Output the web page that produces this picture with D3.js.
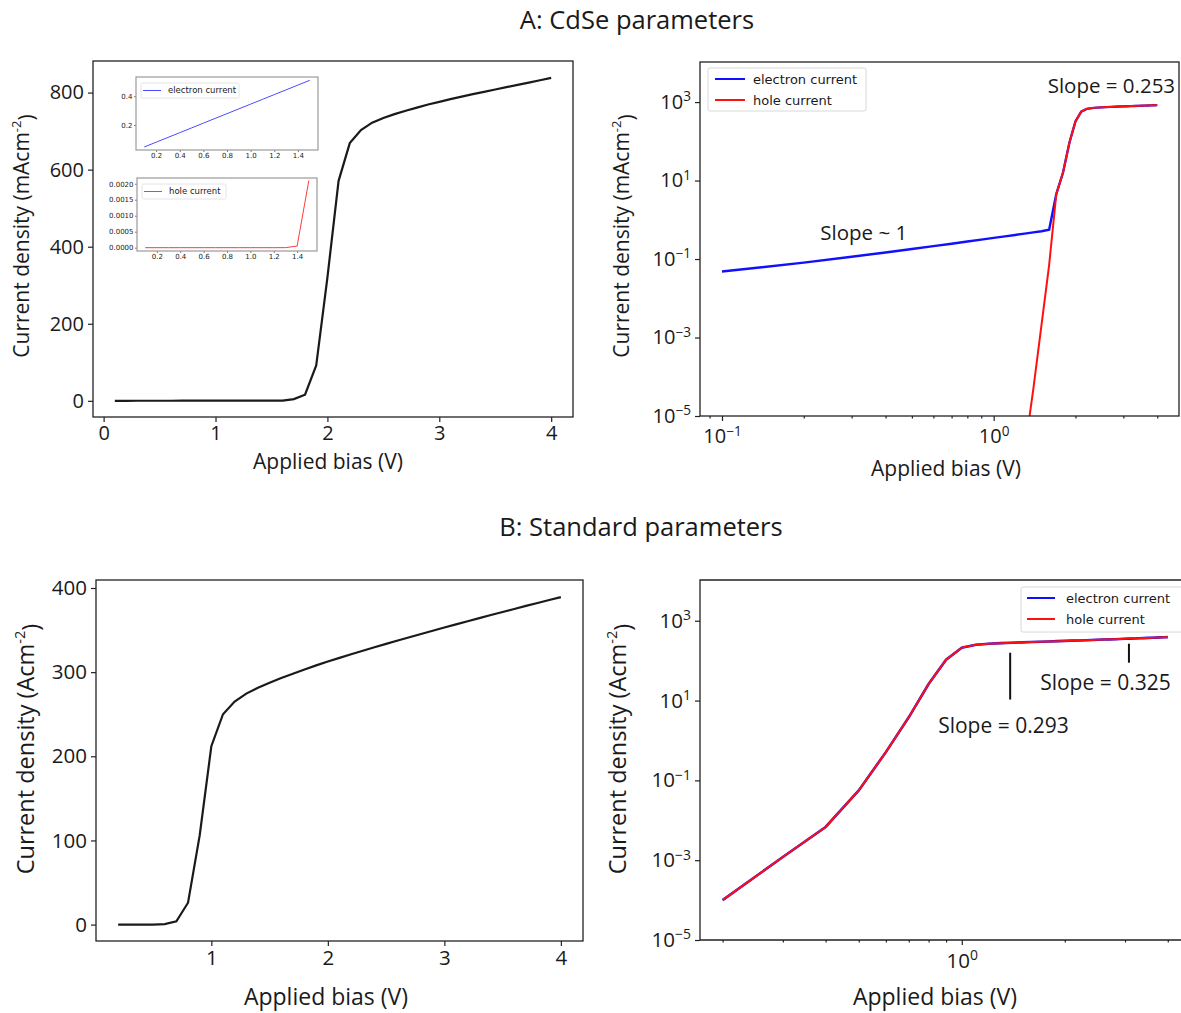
<!DOCTYPE html>
<html>
<head>
<meta charset="utf-8">
<script src="https://cdn.jsdelivr.net/npm/d3@7"></script>
<style>
  body { margin: 0; background: #fff; }
  svg text { font-family: "Open Sans", sans-serif; fill: #1a1a1a; }
  .mpl text { font-family: "DejaVu Sans", sans-serif; }
</style>
</head>
<body>
<div id="chart"></div>
<script>
// ── Data: A (CdSe parameters), current in mA/cm² ──────────────────
const biasA = [0.1, 0.2, 0.3, 0.4, 0.5, 0.6, 0.7, 0.8, 0.9, 1.0,
               1.1, 1.2, 1.3, 1.4, 1.5, 1.6, 1.7, 1.8, 1.9, 2.0,
               2.1, 2.2, 2.3, 2.4, 2.5, 2.6, 2.7, 2.8, 2.9, 3.0,
               3.1, 3.2, 3.3, 3.4, 3.5, 3.6, 3.7, 3.8, 3.9, 4.0];
const electronA = [0.048, 0.081, 0.114, 0.147, 0.18, 0.213, 0.246, 0.279, 0.312, 0.345,
                   0.378, 0.411, 0.444, 0.477, 0.51, 0.56, 4.5, 16, 92, 320,
                   571, 669, 703, 722, 734, 744, 753, 761, 769, 776,
                   783, 789.5, 796, 802, 808, 814, 820, 826, 832, 838];
const holeA = [0, 0, 0, 0, 0, 0, 0, 0, 0, 0,
               0, 0, 1.2e-6, 5e-5, 0.0021, 0.07, 4.5, 16, 92, 320,
               571, 669, 703, 722, 734, 744, 753, 761, 769, 776,
               783, 789.5, 796, 802, 808, 814, 820, 826, 832, 838];
const insetMaxBias = 1.5;

// ── Data: B (standard parameters), current in A/cm² ───────────────
const biasB = [0.2, 0.3, 0.4, 0.5, 0.6, 0.7, 0.8, 0.9, 1.0,
               1.1, 1.2, 1.3, 1.4, 1.5, 1.6, 1.7, 1.8, 1.9, 2.0,
               2.1, 2.2, 2.3, 2.4, 2.5, 2.6, 2.7, 2.8, 2.9, 3.0,
               3.1, 3.2, 3.3, 3.4, 3.5, 3.6, 3.7, 3.8, 3.9, 4.0];
const currentB = [0.0001, 0.0012, 0.0068, 0.056, 0.51, 3.8, 26, 106, 212,
                  250, 265, 274.5, 281.5, 287.5, 293, 298.2, 303.2, 308, 312.6,
                  317, 321.3, 325.5, 329.6, 333.6, 337.6, 341.5, 345.4, 349.2, 353,
                  356.8, 360.5, 364.2, 367.9, 371.5, 375.1, 378.7, 382.2, 385.7, 389.2];

// ── Ticks ─────────────────────────────────────────────────────────
const linTicksA = [0, 1, 2, 3, 4];
const yTicksA = [0, 200, 400, 600, 800];
const linTicksB = [1, 2, 3, 4];
const yTicksB = [0, 100, 200, 300, 400];
const logYTicks = [1e-5, 1e-3, 1e-1, 1e1, 1e3];
const logXMajor = [0.1, 1];
const logXMinor = [0.09, 0.2, 0.3, 0.4, 0.5, 0.6, 0.7, 0.8, 0.9, 2, 3, 4];
const insetXTicks = [0.2, 0.4, 0.6, 0.8, 1.0, 1.2, 1.4];
const insetElecTicks = [0.2, 0.4];
const insetHoleTicks = [0, 0.0005, 0.001, 0.0015, 0.002];

// ── Annotations (data coordinates) ────────────────────────────────
const notesA = [{ x: 1.58, y: 1700, text: "Slope = 0.253" },
                { x: 0.23, y: 0.305, text: "Slope ~ 1" }];
const notesB = [{ x: 0.853, y: 1.5, text: "Slope = 0.293" },
                { x: 1.695, y: 18.8, text: "Slope = 0.325" }];
const marksB = [{ x: 1.385, y1: 10.6, y2: 158 },
                { x: 3.08, y1: 89, y2: 266 }];

const colors = { line: "#1a1a1a", electron: "#1010ff", hole: "#ff1010", frame: "#222" };

const svg = d3.select("#chart").append("svg")
  .attr("width", 1181).attr("height", 1013);

const seriesA = biasA.map((b, i) => ({ x: b, e: electronA[i], h: holeA[i] }));
const seriesB = biasB.map((b, i) => ({ x: b, j: currentB[i] }));

// ── Titles ────────────────────────────────────────────────────────
svg.append("text").attr("x", 637).attr("y", 29).attr("text-anchor", "middle")
  .style("font-size", "25.5px").text("A: CdSe parameters");
svg.append("text").attr("x", 641).attr("y", 536).attr("text-anchor", "middle")
  .style("font-size", "25.5px").text("B: Standard parameters");

// ── helpers ───────────────────────────────────────────────────────
function frame(g, x, y, opts = {}) {
  const [x0, x1] = x.range(), [y1, y0] = y.range();
  g.append("rect")
    .attr("x", x0).attr("y", y0).attr("width", x1 - x0).attr("height", y1 - y0)
    .attr("fill", "none")
    .attr("stroke", opts.stroke || colors.frame)
    .attr("stroke-width", opts.width || 1.3);
}

function clip(id, x, y) {
  const [x0, x1] = x.range(), [y1, y0] = y.range();
  svg.append("clipPath").attr("id", id).append("rect")
    .attr("x", x0).attr("y", y0).attr("width", x1 - x0).attr("height", y1 - y0);
  return `url(#${id})`;
}

function styleAxis(g, size) {
  g.select(".domain").remove();
  g.selectAll(".tick line").attr("stroke", colors.frame).attr("stroke-width", 1.2);
  g.selectAll(".tick text").style("font-size", size + "px").attr("fill", "#1a1a1a");
}

function powerLabels(g) {
  g.selectAll(".tick text").each(function (d) {
    const e = Math.round(Math.log10(d));
    const t = d3.select(this).text("10");
    t.append("tspan").attr("dy", "-0.55em").style("font-size", "0.68em")
      .text(e < 0 ? "\u2212" + (-e) : e);
  });
}

function yLabel(x, y, unit, size) {
  const t = svg.append("text")
    .attr("transform", `translate(${x},${y}) rotate(-90)`)
    .attr("text-anchor", "middle").style("font-size", size + "px")
    .text("Current density (" + unit);
  t.append("tspan").attr("dy", "-0.6em").style("font-size", "0.62em").text("-2");
  t.append("tspan").attr("dy", "0.6em").text(")");
}

function xLabel(x, y, size) {
  svg.append("text").attr("x", x).attr("y", y).attr("text-anchor", "middle")
    .style("font-size", size + "px").text("Applied bias (V)");
}

// ── Panel A, left: linear ────────────────────────────────────────
{
  const x = d3.scaleLinear().domain([-0.095, 4.195]).range([93, 573]);
  const y = d3.scaleLinear().domain([-42, 882]).range([417, 61]);
  const g = svg.append("g");

  g.append("g").attr("transform", `translate(0,${y.range()[0]})`)
    .call(d3.axisBottom(x).tickValues(linTicksA).tickFormat(d3.format("d")).tickSize(5).tickPadding(4))
    .call(a => styleAxis(a, 20));
  g.append("g").attr("transform", `translate(${x.range()[0]},0)`)
    .call(d3.axisLeft(y).tickValues(yTicksA).tickSize(5).tickPadding(4))
    .call(a => styleAxis(a, 20));

  g.append("path").datum(seriesA)
    .attr("fill", "none").attr("stroke", colors.line).attr("stroke-width", 2.2)
    .attr("d", d3.line().x(d => x(d.x)).y(d => y(d.e)));
  frame(g, x, y);

  yLabel(29, 236, "mAcm", 21);
  xLabel(328, 469, 21);

  // insets: electron and hole current at low bias
  const insetData = seriesA.filter(d => d.x <= insetMaxBias);
  const ix = d3.scaleLinear().domain([0.03, 1.57]).range([136, 318]);
  const iy1 = d3.scaleLinear().domain([0.027, 0.533]).range([150, 77]);
  const ix2 = d3.scaleLinear().domain([0.03, 1.57]).range([137, 317]);
  const iy2 = d3.scaleLinear().domain([-0.000104, 0.00218]).range([251, 178]);

  const insets = [
    { x: ix, y: iy1, ticks: insetElecTicks, fmt: ".1f", key: "e", color: "#4b4bff", label: "electron current", lw: 98 },
    { x: ix2, y: iy2, ticks: insetHoleTicks, fmt: ".4f", key: "h", color: "#ff3b3b", label: "hole current", lw: 84 }
  ];
  insets.forEach(p => {
    const ig = svg.append("g").attr("class", "mpl");
    ig.append("g").attr("transform", `translate(0,${p.y.range()[0]})`)
      .call(d3.axisBottom(p.x).tickValues(insetXTicks).tickFormat(d3.format(".1f")).tickSize(2).tickPadding(1.5))
      .call(a => styleAxis(a, 7));
    ig.append("g").attr("transform", `translate(${p.x.range()[0]},0)`)
      .call(d3.axisLeft(p.y).tickValues(p.ticks).tickFormat(d3.format(p.fmt)).tickSize(2).tickPadding(1.5))
      .call(a => styleAxis(a, 7));
    ig.selectAll(".tick line").attr("stroke", "#555").attr("stroke-width", 0.8);
    ig.selectAll(".tick text").attr("fill", "#333");
    ig.append("path").datum(insetData)
      .attr("fill", "none").attr("stroke", p.color).attr("stroke-width", 1)
      .attr("d", d3.line().x(d => p.x(d.x)).y(d => p.y(d[p.key])));
    frame(ig, p.x, p.y, { stroke: "#9a9a9a", width: 1.2 });

    const lx = p.x.range()[0] + 5, ly = p.y.range()[1] + 6;
    ig.append("rect").attr("x", lx).attr("y", ly).attr("width", p.lw).attr("height", 15)
      .attr("rx", 1.5).attr("fill", "#fff").attr("stroke", "#ddd").attr("stroke-width", 0.8);
    ig.append("line").attr("x1", lx + 2).attr("x2", lx + 20)
      .attr("y1", ly + 7.5).attr("y2", ly + 7.5).attr("stroke", p.color).attr("stroke-width", 1);
    ig.append("text").attr("x", lx + 27).attr("y", ly + 7.5).attr("dy", "0.35em")
      .style("font-size", "8.5px").attr("fill", "#333").text(p.label);
  });
}

// ── Panel A, right: log-log ──────────────────────────────────────
{
  const x = d3.scaleLog().domain([0.083, 4.81]).range([700, 1179]);
  const y = d3.scaleLog().domain([1e-5, 1.05e4]).range([416, 62]);
  const g = svg.append("g");

  g.append("g").attr("transform", `translate(0,${y.range()[0]})`)
    .call(d3.axisBottom(x).tickValues(logXMinor).tickFormat("").tickSize(2.5))
    .call(a => styleAxis(a, 20));
  g.append("g").attr("transform", `translate(0,${y.range()[0]})`)
    .call(d3.axisBottom(x).tickValues(logXMajor).tickSize(5).tickPadding(8))
    .call(a => styleAxis(a, 20)).call(powerLabels);
  g.append("g").attr("transform", `translate(${x.range()[0]},0)`)
    .call(d3.axisLeft(y).tickValues(logYTicks).tickSize(5).tickPadding(4))
    .call(a => styleAxis(a, 20)).call(powerLabels);

  const cp = clip("clipA2", x, y);
  g.append("path").datum(seriesA.filter(d => d.e > 0))
    .attr("clip-path", cp)
    .attr("fill", "none").attr("stroke", colors.electron).attr("stroke-width", 2.4)
    .attr("d", d3.line().x(d => x(d.x)).y(d => y(d.e)));
  g.append("path").datum(seriesA.filter(d => d.h > 0))
    .attr("clip-path", cp)
    .attr("fill", "none").attr("stroke", colors.hole).attr("stroke-width", 2)
    .attr("d", d3.line().x(d => x(d.x)).y(d => y(d.h)));
  frame(g, x, y);

  notesA.forEach(n => g.append("text").attr("x", x(n.x)).attr("y", y(n.y))
    .style("font-size", "20.5px").text(n.text));

  // legend
  const lg = g.append("g").attr("class", "mpl");
  lg.append("rect").attr("x", 708).attr("y", 68).attr("width", 158).attr("height", 43)
    .attr("rx", 2).attr("fill", "#fff").attr("stroke", "#d8d8d8");
  [["electron current", colors.electron], ["hole current", colors.hole]].forEach(([t, c], i) => {
    lg.append("line").attr("x1", 715).attr("x2", 745).attr("y1", 79 + i * 21).attr("y2", 79 + i * 21)
      .attr("stroke", c).attr("stroke-width", 2);
    lg.append("text").attr("x", 753).attr("y", 79 + i * 21).attr("dy", "0.35em")
      .style("font-size", "13px").text(t);
  });

  yLabel(629, 236, "mAcm", 21);
  xLabel(946, 476, 21);
}

// ── Panel B, left: linear ────────────────────────────────────────
{
  const x = d3.scaleLinear().domain([0.01, 4.19]).range([96, 583]);
  const y = d3.scaleLinear().domain([-19.5, 409.5]).range([941, 580]);
  const g = svg.append("g");

  g.append("g").attr("transform", `translate(0,${y.range()[0]})`)
    .call(d3.axisBottom(x).tickValues(linTicksB).tickFormat(d3.format("d")).tickSize(5).tickPadding(4))
    .call(a => styleAxis(a, 20.5));
  g.append("g").attr("transform", `translate(${x.range()[0]},0)`)
    .call(d3.axisLeft(y).tickValues(yTicksB).tickSize(5).tickPadding(4))
    .call(a => styleAxis(a, 20.5));

  g.append("path").datum(seriesB)
    .attr("fill", "none").attr("stroke", colors.line).attr("stroke-width", 2.2)
    .attr("d", d3.line().x(d => x(d.x)).y(d => y(d.j)));
  frame(g, x, y);

  yLabel(34, 749, "Acm", 23.5);
  xLabel(326, 1005, 23);
}

// ── Panel B, right: log-log ──────────────────────────────────────
{
  const x = d3.scaleLog().domain([Math.pow(10, -0.765), Math.pow(10, 0.667)]).range([700, 1190]);
  const y = d3.scaleLog().domain([1e-5, 1.05e4]).range([940, 580]);
  const g = svg.append("g");

  g.append("g").attr("transform", `translate(0,${y.range()[0]})`)
    .call(d3.axisBottom(x).tickValues(logXMinor.filter(v => v > x.domain()[0])).tickFormat("").tickSize(2.5))
    .call(a => styleAxis(a, 20.5));
  g.append("g").attr("transform", `translate(0,${y.range()[0]})`)
    .call(d3.axisBottom(x).tickValues([1]).tickSize(5).tickPadding(8))
    .call(a => styleAxis(a, 20.5)).call(powerLabels);
  g.append("g").attr("transform", `translate(${x.range()[0]},0)`)
    .call(d3.axisLeft(y).tickValues(logYTicks).tickSize(5).tickPadding(4))
    .call(a => styleAxis(a, 20.5)).call(powerLabels);

  const cp = clip("clipB2", x, y);
  const line = d3.line().x(d => x(d.x)).y(d => y(d.j));
  g.append("path").datum(seriesB).attr("clip-path", cp)
    .attr("fill", "none").attr("stroke", colors.electron).attr("stroke-width", 2.6).attr("d", line);
  g.append("path").datum(seriesB).attr("clip-path", cp)
    .attr("fill", "none").attr("stroke", colors.hole).attr("stroke-width", 2).attr("d", line);

  // frame without right side (cut off by picture edge)
  const [x0] = x.range(), [yb, yt] = y.range();
  g.append("path").attr("d", `M1181,${yt}H${x0}V${yb}H1181`)
    .attr("fill", "none").attr("stroke", colors.frame).attr("stroke-width", 1.3);

  marksB.forEach(m => g.append("line")
    .attr("x1", x(m.x)).attr("x2", x(m.x)).attr("y1", y(m.y1)).attr("y2", y(m.y2))
    .attr("stroke", "#111").attr("stroke-width", 2));
  notesB.forEach(n => g.append("text").attr("x", x(n.x)).attr("y", y(n.y))
    .style("font-size", "21px").text(n.text));

  const lg = g.append("g").attr("class", "mpl");
  lg.append("rect").attr("x", 1021).attr("y", 587).attr("width", 170).attr("height", 45)
    .attr("rx", 2).attr("fill", "#fff").attr("stroke", "#d8d8d8");
  [["electron current", colors.electron], ["hole current", colors.hole]].forEach(([t, c], i) => {
    lg.append("line").attr("x1", 1027).attr("x2", 1055).attr("y1", 598 + i * 21).attr("y2", 598 + i * 21)
      .attr("stroke", c).attr("stroke-width", 2);
    lg.append("text").attr("x", 1066).attr("y", 598 + i * 21).attr("dy", "0.35em")
      .style("font-size", "13px").text(t);
  });

  yLabel(626, 749, "Acm", 23.5);
  xLabel(935, 1005, 23);
}
</script>
</body>
</html>
